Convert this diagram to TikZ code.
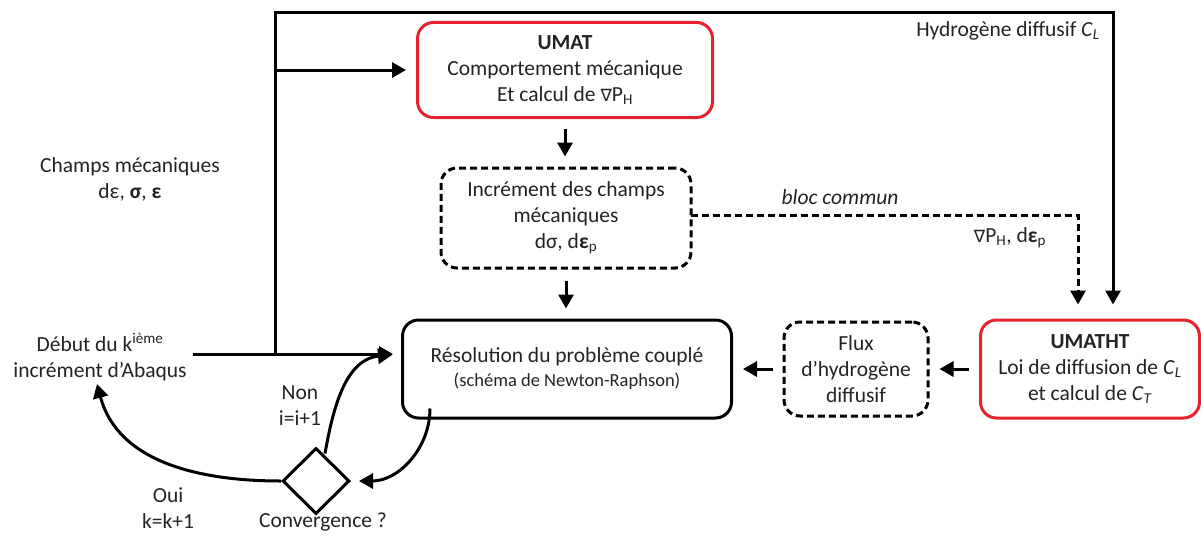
\documentclass[tikz,border=0pt]{standalone}
\usepackage{fontspec}
\setmainfont{Carlito}
\newfontfamily\symfont{DejaVu Sans}
\usetikzlibrary{arrows.meta,shapes.geometric}
\definecolor{boxred}{RGB}{230,35,45}
\definecolor{txt}{RGB}{35,35,35}
\newcommand{\nab}{{\symfont\fontsize{17}{20}\selectfont ∇}}
\tikzset{
  every node/.style={font=\fontsize{21.5}{26}\selectfont, text=txt, align=center},
  redbox/.style={draw=boxred, line width=3pt, rounded corners=16pt},
  blackbox/.style={draw=black, line width=3pt, rounded corners=16pt},
  dashbox/.style={draw=black, line width=3pt, rounded corners=16pt, dash pattern=on 7pt off 4pt},
  arr/.style={line width=3pt, -{Triangle[length=14pt,width=15pt]}},
  dconn/.style={line width=3pt, dash pattern=on 7pt off 4pt, -{Triangle[length=14pt,width=15pt]}},
}
\begin{document}
\begin{tikzpicture}[x=1pt,y=-1pt]
\useasboundingbox (0,0) rectangle (1201,535);

\node[redbox, minimum width=295pt, minimum height=95pt] (umat) at (565,70)
  {\textbf{UMAT}\\Comportement mécanique\\Et calcul de \nab P\textsubscript{H}};
\node[dashbox, minimum width=250pt, minimum height=100pt] (inc) at (566,218)
  {Incrément des champs\\mécaniques\\dσ, d\textbf{ε}\textsubscript{p}};
\node[blackbox, minimum width=329pt, minimum height=98pt] (res) at (567,369)
  {Résolution du problème couplé\\[-2pt]{\fontsize{18.5}{22}\selectfont (schéma de Newton-Raphson)}};
\node[dashbox, minimum width=144pt, minimum height=94pt] (flux) at (856,369)
  {Flux\\d’hydrogène\\diffusif};
\node[redbox, minimum width=219pt, minimum height=98pt] (umatht) at (1090,369)
  {\textbf{UMATHT}\\Loi de diffusion de \textit{C}\textsubscript{\textit{L}}\\et calcul de \textit{C}\textsubscript{\textit{T}}};
\node[diamond, draw=black, line width=3pt, minimum width=67pt, minimum height=66pt, inner sep=0pt] (conv) at (316,481) {};

\node (debut) at (100,357) {Début du k\textsuperscript{ième}\\incrément d’Abaqus};
\node (champs) at (130,179) {Champs mécaniques\\dε, \textbf{σ}, \textbf{ε}};
\node (hyd) at (1008,31) {Hydrogène diffusif \textit{C}\textsubscript{\textit{L}}};
\node (bloc) at (840,197) {\textit{bloc commun}};
\node (grad) at (1010,238) {\nab P\textsubscript{H}, d\textbf{ε}\textsubscript{p}};
\node (non) at (300,406) {Non\\i=i+1};
\node (oui) at (168,508) {Oui\\k=k+1};
\node (convlab) at (323,522) {Convergence ?};

\coordinate (jbot) at (275,354);
\coordinate (jmid) at (275,70);
\coordinate (tl) at (275,13);
\coordinate (tr) at (1113,13);
\coordinate (dstart) at (691,215);
\coordinate (dcorner) at (1078,215);
\coordinate (dstart0) at (193,354);

% top line and left vertical
\draw[arr, shorten >=14pt] (jbot) -- (tl) -- (tr) -- (tr |- umatht.north);
\draw[arr, shorten >=10pt] (jmid) -- (umat.west |- jmid);
\draw[arr, shorten >=8pt] (dstart0) -- (res.west |- dstart0);

\draw[arr, shorten <=10pt, shorten >=10pt] (umat.south) -- (inc.north -| umat.south);
\draw[arr, shorten <=11pt, shorten >=10pt] (inc.south) -- (res.north -| inc.south);

\draw[dconn, shorten >=14pt] (dstart) -- (dcorner) -- (dcorner |- umatht.north);

\draw[arr, shorten <=10pt, shorten >=10pt] (umatht.west) -- (flux.east);
\draw[arr, shorten <=10pt, shorten >=10pt] (flux.west) -- (res.east);

% convergence loop
\draw[arr] ([xshift=-137pt,yshift=11pt]res.south) to[out=-90,in=0] ([xshift=8pt]conv.east);
\draw[arr] ([xshift=9pt,yshift=-7pt]conv.north) to[out=80,in=185] ([xshift=-9pt,yshift=14pt]res.west);
\draw[arr] (conv.west) to[out=180,in=-75] (97,384);
\end{tikzpicture}
\end{document}
